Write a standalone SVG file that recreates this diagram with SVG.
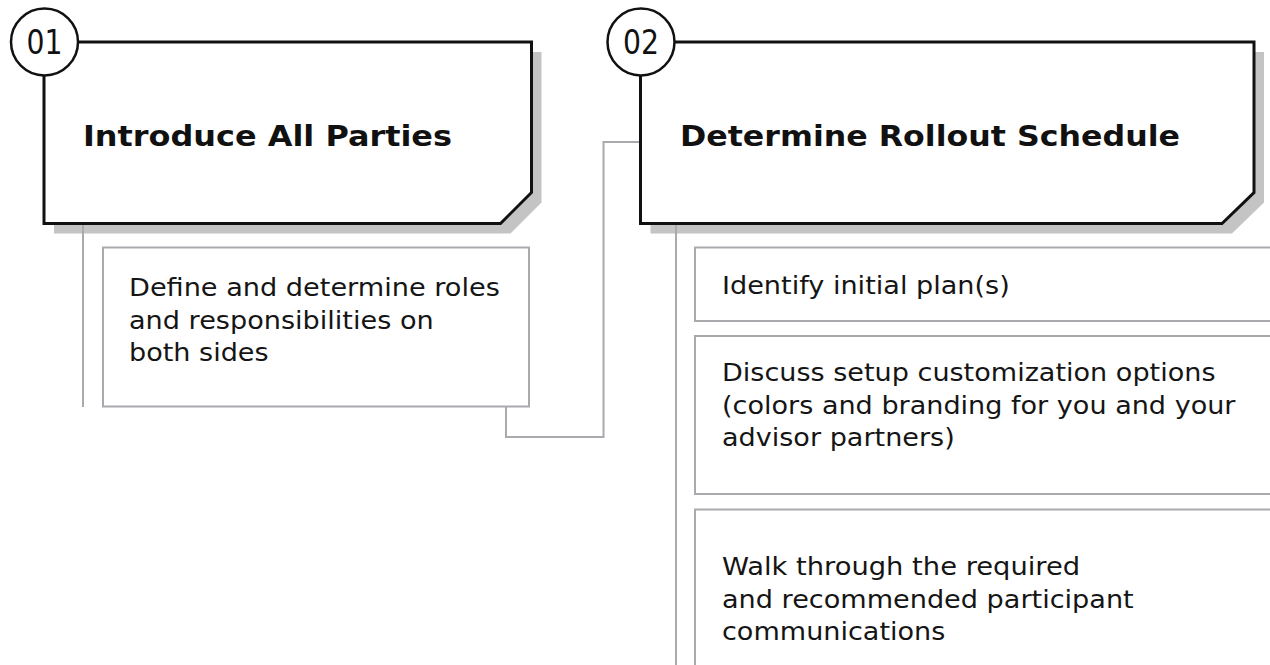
<svg xmlns="http://www.w3.org/2000/svg" width="1270" height="665" viewBox="0 0 1270 665">
  <defs>
    <style>
      .shadow { fill: #c4c4c4; stroke: none; }
      .panel { fill: #ffffff; stroke: none; }
      .edge { fill: none; stroke: #111111; stroke-width: 3; stroke-linejoin: miter; }
      .badge { fill: #ffffff; stroke: #111111; stroke-width: 2.5; }
      .num { font-family: "DejaVu Sans", "Liberation Sans", sans-serif; font-size: 33px; fill: #111111; text-anchor: middle; }
      .title { font-family: "DejaVu Sans", "Liberation Sans", sans-serif; font-size: 29px; font-weight: bold; fill: #111111; }
      .card { fill: #ffffff; stroke: #aaaaae; stroke-width: 2; }
      .body { font-family: "DejaVu Sans", "Liberation Sans", sans-serif; font-size: 24px; fill: #151515; }
      .wire { fill: none; stroke: #aaaaae; stroke-width: 2; }
    </style>
  </defs>

  <rect x="0" y="0" width="1270" height="665" fill="#ffffff"/>

  <!-- drop shadows behind the two step panels -->
  <path class="shadow" d="M54,52 H541.5 V202.5 L510.5,233.5 H54 Z"/>
  <path class="shadow" d="M650.5,52 H1264 V202.5 L1232,233.5 H650.5 Z"/>

  <!-- connectors -->
  <g id="connectors">
    <path class="wire" d="M83,223 V407"/>
    <path class="wire" d="M676,223 V665"/>
    <path class="wire" d="M506,407 V437 H603.5 V142 H640"/>
  </g>

  <!-- step 01 -->
  <g id="step-01">
    <path class="panel" d="M44,42 H531.5 V192.5 L500.5,223.5 H44 Z"/>
    <path class="edge" d="M78,42 H531.5 V192.5 L500.5,223.5 H44 V76"/>
    <circle class="badge" cx="44.5" cy="42" r="33.5"/>
    <text class="num" x="44.5" y="54" textLength="36" lengthAdjust="spacingAndGlyphs">01</text>
    <text class="title" x="83" y="146" textLength="369" lengthAdjust="spacingAndGlyphs">Introduce All Parties</text>
  </g>

  <g id="step-01-detail">
    <rect class="card" x="103" y="247.5" width="426" height="159"/>
    <text class="body" x="129" y="296" textLength="370.8" lengthAdjust="spacingAndGlyphs">Define and determine roles</text>
    <text class="body" x="129" y="328.5" textLength="304.7" lengthAdjust="spacingAndGlyphs">and responsibilities on</text>
    <text class="body" x="129" y="361" textLength="139.6" lengthAdjust="spacingAndGlyphs">both sides</text>
  </g>

  <!-- step 02 -->
  <g id="step-02">
    <path class="panel" d="M640.5,42 H1254 V192.5 L1222,223.5 H640.5 Z"/>
    <path class="edge" d="M675,42 H1254 V192.5 L1222,223.5 H640.5 V76"/>
    <circle class="badge" cx="641" cy="42" r="33.5"/>
    <text class="num" x="641" y="54" textLength="36" lengthAdjust="spacingAndGlyphs">02</text>
    <text class="title" x="680" y="146" textLength="500" lengthAdjust="spacingAndGlyphs">Determine Rollout Schedule</text>
  </g>

  <g id="step-02-item-1">
    <rect class="card" x="695" y="247.5" width="600" height="73.5"/>
    <text class="body" x="722" y="294" textLength="287.8" lengthAdjust="spacingAndGlyphs">Identify initial plan(s)</text>
  </g>

  <g id="step-02-item-2">
    <rect class="card" x="695" y="336" width="600" height="158"/>
    <text class="body" x="722" y="381" textLength="493.5" lengthAdjust="spacingAndGlyphs">Discuss setup customization options</text>
    <text class="body" x="722" y="413.5" textLength="513.5" lengthAdjust="spacingAndGlyphs">(colors and branding for you and your</text>
    <text class="body" x="722" y="446" textLength="232.7" lengthAdjust="spacingAndGlyphs">advisor partners)</text>
  </g>

  <g id="step-02-item-3">
    <rect class="card" x="695" y="509.5" width="600" height="200"/>
    <text class="body" x="722" y="575" textLength="358.1" lengthAdjust="spacingAndGlyphs">Walk through the required</text>
    <text class="body" x="722" y="607.5" textLength="411.7" lengthAdjust="spacingAndGlyphs">and recommended participant</text>
    <text class="body" x="722" y="640" textLength="223.3" lengthAdjust="spacingAndGlyphs">communications</text>
  </g>
</svg>
